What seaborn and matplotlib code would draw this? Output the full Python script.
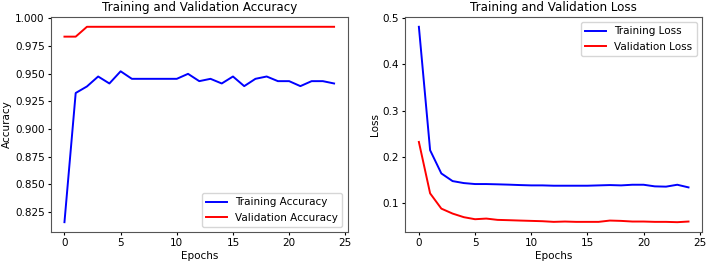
import numpy as np
import pandas as pd
import seaborn as sns
from matplotlib import pyplot as plt

plt.rcParams['font.family'] = ['DejaVu Sans']

epochs = list(range(25))

train_acc = [0.8157, 0.9324, 0.9383, 0.9473, 0.9410, 0.9520, 0.9452, 0.9452, 0.9452,
             0.9452, 0.9452, 0.9497, 0.9431, 0.9452, 0.9410, 0.9473, 0.9386, 0.9452,
             0.9473, 0.9431, 0.9431, 0.9386, 0.9431, 0.9431, 0.9410]
val_acc = [0.9833, 0.9833] + [0.9922] * 23

train_loss = [0.4814, 0.2147, 0.1645, 0.1480, 0.1437, 0.1416, 0.1416, 0.1410, 0.1403,
              0.1394, 0.1387, 0.1387, 0.1380, 0.1380, 0.1380, 0.1380, 0.1387, 0.1394,
              0.1387, 0.1401, 0.1401, 0.1366, 0.1360, 0.1401, 0.1344]
val_loss = [0.2326, 0.1215, 0.0885, 0.0778, 0.0700, 0.0656, 0.0670, 0.0642, 0.0635,
            0.0627, 0.0620, 0.0613, 0.0599, 0.0606, 0.0599, 0.0599, 0.0599, 0.0627,
            0.0620, 0.0606, 0.0606, 0.0599, 0.0599, 0.0592, 0.0606]

fs = 7.5
fig, (ax1, ax2) = plt.subplots(ncols=2, figsize=(7.08, 2.66), dpi=100)
fig.subplots_adjust(left=0.072, right=0.9915, bottom=0.128, top=0.936, wspace=0.195)

sns.lineplot(x=epochs, y=train_acc, color='b', lw=1.4, label='Training Accuracy', ax=ax1)
sns.lineplot(x=epochs, y=val_acc, color='r', lw=1.4, label='Validation Accuracy', ax=ax1)
ax1.set_title('Training and Validation Accuracy', fontsize=8.6, pad=4)
ax1.set_xlabel('Epochs', fontsize=fs, labelpad=2)
ax1.set_ylabel('Accuracy', fontsize=fs, labelpad=2)
ax1.legend(loc='lower right', fontsize=fs)

sns.lineplot(x=epochs, y=train_loss, color='b', lw=1.4, label='Training Loss', ax=ax2)
sns.lineplot(x=epochs, y=val_loss, color='r', lw=1.4, label='Validation Loss', ax=ax2)
ax2.set_title('Training and Validation Loss', fontsize=8.6, pad=4)
ax2.set_xlabel('Epochs', fontsize=fs, labelpad=2)
ax2.set_ylabel('Loss', fontsize=fs, labelpad=2)
ax2.legend(loc='upper right', fontsize=fs)

for ax in (ax1, ax2):
    ax.set_xticks([0, 5, 10, 15, 20, 25])
    ax.tick_params(labelsize=fs, length=2.5, pad=2)
    for s in ax.spines.values():
        s.set_color('#555555')

fig.savefig('out.png', dpi=100)
plt.close('all')
